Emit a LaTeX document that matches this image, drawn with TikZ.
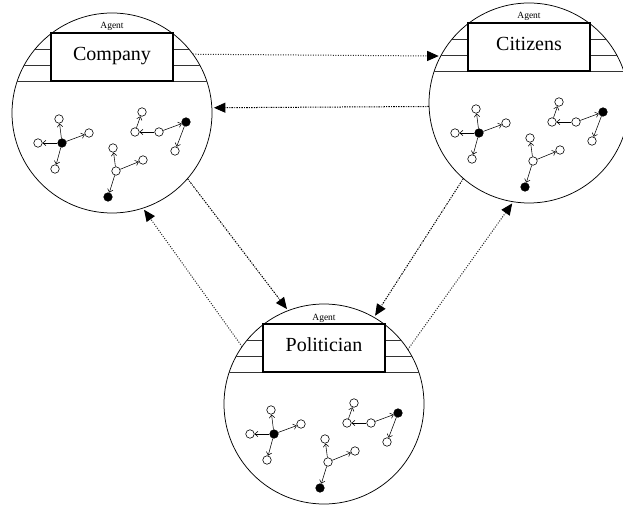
\documentclass[tikz,border=0pt]{standalone}
\usepackage{fontspec}
\setmainfont{Liberation Serif}
\usetikzlibrary{arrows.meta}
\tikzset{
  agentcircle/.style={circle, draw, line width=0.75pt, minimum size=200pt, inner sep=0pt, outer sep=0pt},
  agentbox/.style={draw, line width=1.1pt, minimum width=122pt, minimum height=48pt, inner sep=0pt, fill=white},
  agentlabel/.style={font=\fontsize{20}{24}\selectfont, inner sep=0pt},
  agenttag/.style={font=\fontsize{9.5}{11}\selectfont, inner sep=1.2pt},
  rule/.style={line width=0.8pt, black!80},
  wnode/.style={circle, draw, line width=0.6pt, minimum size=8.5pt, inner sep=0pt, fill=white},
  bnode/.style={circle, draw, fill=black, line width=0.6pt, minimum size=8.5pt, inner sep=0pt},
  flow/.style={-{Straight Barb[length=3pt,width=5.5pt]}, line width=0.55pt},
  link/.style={-{Triangle[length=11.5pt,width=10pt,black]}, line width=1pt, shorten >=2pt},
  linka/.style={link, dash pattern=on 1pt off 1.5pt, black!85},
  linkb/.style={link, dash pattern=on 1.6pt off 1.2pt on 0.9pt off 1.2pt},
}
\newcommand\agentgroup[3]{%
\begin{scope}[shift={#2}]
  \node[agentcircle] (#1) at (0,0) {};
  \draw[rule] (-76.8,-64) -- (-61,-64) (61,-64) -- (76.8,-64)
              (-87.7,-48) -- (-61,-48) (61,-48) -- (87.7,-48)
              (-94.7,-32) -- (94.7,-32);
  \node[agentbox] (#1-box) at (0,-56) {};
  \node[agentlabel, anchor=base] (#1-lbl) at (0,-52.5) {#3};
  \node[agenttag, anchor=south] (#1-tag) at (#1-box.north) {Agent};
  \node[bnode] (#1-a)  at (-50,30) {};
  \node[wnode] (#1-a1) at (-53,6) {};
  \node[wnode] (#1-a2) at (-23,20) {};
  \node[wnode] (#1-a3) at (-74,30) {};
  \node[wnode] (#1-a4) at (-57,56) {};
  \node[wnode] (#1-b)  at (4,58) {};
  \node[wnode] (#1-b1) at (1,35) {};
  \node[wnode] (#1-b2) at (31,47) {};
  \node[bnode] (#1-b3) at (-4,84) {};
  \node[bnode] (#1-c)  at (74,9) {};
  \node[wnode] (#1-c1) at (47,19) {};
  \node[wnode] (#1-c2) at (63,38) {};
  \node[wnode] (#1-c3) at (23,19) {};
  \node[wnode] (#1-c4) at (30,-1) {};
  \draw[flow] (#1-a) -- (#1-a1);
  \draw[flow] (#1-a) -- (#1-a2);
  \draw[flow] (#1-a) -- (#1-a3);
  \draw[flow] (#1-a) -- (#1-a4);
  \draw[flow] (#1-b) -- (#1-b1);
  \draw[flow] (#1-b) -- (#1-b2);
  \draw[flow] (#1-b) -- (#1-b3);
  \draw[flow] (#1-c1) -- (#1-c);
  \draw[flow] (#1-c) -- (#1-c2);
  \draw[flow] (#1-c1) -- (#1-c3);
  \draw[flow] (#1-c3) -- (#1-c4);
\end{scope}}
\begin{document}
\begin{tikzpicture}[x=1pt,y=-1pt]
  \useasboundingbox (0,0) rectangle (623,505);
  \clip (0,0) rectangle (623,505);
  \agentgroup{comp}{(112,113)}{Company}
  \agentgroup{cit}{(529,103)}{Citizens}
  \agentgroup{pol}{(324,404)}{Politician}
  \draw[linka] (comp.36) -- (cit.152);
  \draw[linkb] (cit.182) -- (comp.3);
  \draw[linkb] (comp.-41) -- (pol.111);
  \draw[linka] (pol.145) -- (comp.-72);
  \draw[linkb] (cit.-131) -- (pol.60);
  \draw[linka] (pol.33) -- (cit.-99);
\end{tikzpicture}
\end{document}
